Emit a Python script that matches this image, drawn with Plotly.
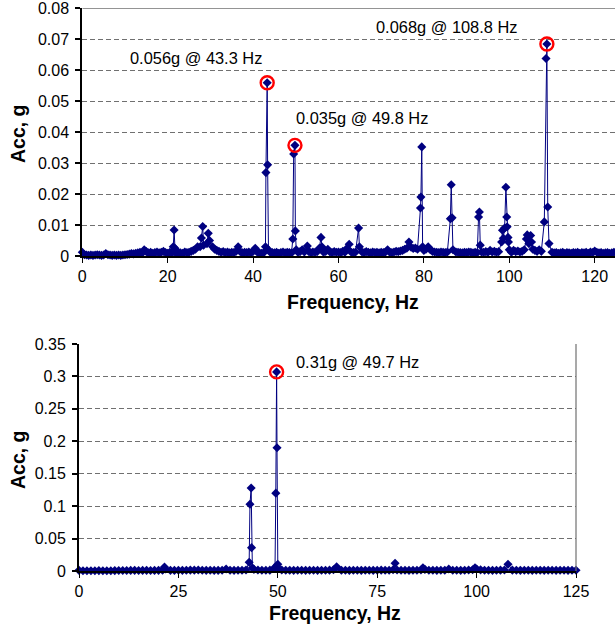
import plotly.graph_objects as go

# ---------------- DATA ----------------
# Top spectrum: noise floor sampled every 0.5 Hz from 0 to 125 Hz (g)
top_floor_step = 0.5
top_floor_acc = [
    0.0012, 0.0004, 0.0003, 0.0002, 0.0003, 0.0002, 0.0003, 0.0004, 0.0003, 0.0002,
    0.0003, 0.0008, 0.0004, 0.0003, 0.0002, 0.0003, 0.0002, 0.0003, 0.0002, 0.0003,
    0.0004, 0.0005, 0.0006, 0.0008, 0.0007, 0.0009, 0.0010, 0.0012, 0.0009, 0.0020,
    0.0014, 0.0010, 0.0012, 0.0009, 0.0011, 0.0013, 0.0010, 0.0012, 0.0015, 0.0011,
    0.0009, 0.0012, 0.0010, 0.0011, 0.0008, 0.0012, 0.0010, 0.0009, 0.0013, 0.0011,
    0.0012, 0.0015, 0.0018, 0.0022, 0.0030, 0.0035, 0.0028, 0.0040, 0.0045, 0.0055,
    0.0040, 0.0030, 0.0022, 0.0018, 0.0015, 0.0012, 0.0014, 0.0011, 0.0013, 0.0010,
    0.0012, 0.0011, 0.0015, 0.0030, 0.0014, 0.0010, 0.0012, 0.0011, 0.0013, 0.0010,
    0.0015, 0.0025, 0.0012, 0.0010, 0.0009, 0.0011, 0.0008, 0.0010, 0.0012, 0.0011,
    0.0010, 0.0012, 0.0009, 0.0011, 0.0013, 0.0010, 0.0012, 0.0011, 0.0010, 0.0012,
    0.0015, 0.0012, 0.0014, 0.0020, 0.0013, 0.0012, 0.0015, 0.0011, 0.0013, 0.0012,
    0.0014, 0.0025, 0.0018, 0.0012, 0.0015, 0.0022, 0.0013, 0.0011, 0.0014, 0.0012,
    0.0013, 0.0011, 0.0015, 0.0012, 0.0025, 0.0014, 0.0012, 0.0011, 0.0013, 0.0012,
    0.0015, 0.0013, 0.0011, 0.0014, 0.0012, 0.0010, 0.0013, 0.0011, 0.0012, 0.0010,
    0.0012, 0.0011, 0.0013, 0.0020, 0.0012, 0.0011, 0.0013, 0.0015, 0.0014, 0.0016,
    0.0018, 0.0022, 0.0025, 0.0030, 0.0028, 0.0024, 0.0026, 0.0022, 0.0025, 0.0020,
    0.0018, 0.0022, 0.0030, 0.0020, 0.0015, 0.0013, 0.0012, 0.0011, 0.0013, 0.0012,
    0.0011, 0.0013, 0.0012, 0.0010, 0.0015, 0.0013, 0.0012, 0.0011, 0.0010, 0.0012,
    0.0011, 0.0013, 0.0012, 0.0010, 0.0012, 0.0011, 0.0015, 0.0013, 0.0012, 0.0014,
    0.0012, 0.0018, 0.0013, 0.0015, 0.0012, 0.0014, 0.0020, 0.0016, 0.0018, 0.0020,
    0.0015, 0.0012, 0.0018, 0.0014, 0.0016, 0.0013, 0.0015, 0.0020, 0.0025, 0.0030,
    0.0028, 0.0022, 0.0018, 0.0015, 0.0020, 0.0015, 0.0018, 0.0025, 0.0020, 0.0015,
    0.0012, 0.0010, 0.0011, 0.0009, 0.0010, 0.0012, 0.0009, 0.0011, 0.0010, 0.0009,
    0.0011, 0.0010, 0.0012, 0.0009, 0.0011, 0.0010, 0.0012, 0.0009, 0.0013, 0.0011,
    0.0016, 0.0012, 0.0010, 0.0011, 0.0009, 0.0010, 0.0011, 0.0009, 0.0010, 0.0012,
    0.0010,
]
# Top spectrum: peak bins (Hz, g)
top_peak_hz = [21.3, 21.5, 21.7,
               27.6, 27.9, 28.2, 28.4, 29.2, 29.5, 29.8,
               42.9, 43.0, 43.3, 43.4, 43.6,
               49.3, 49.5, 49.8, 49.9, 50.1,
               52.7, 55.9, 56.1, 62.5, 64.7, 64.9, 76.5,
               79.2, 79.3, 79.5, 79.7,
               86.2, 86.4, 86.6, 86.8,
               92.8, 93.0, 93.2,
               98.2, 98.4, 98.6, 98.9, 99.2, 99.4, 99.5, 99.7, 99.8, 100.0,
               104.0, 104.2, 104.6, 105.0, 105.2,
               108.2, 108.6, 108.8, 109.0, 109.3]
top_peak_acc = [0.0030, 0.0084, 0.0025,
                0.0030, 0.0058, 0.0095, 0.0035, 0.0040, 0.0073, 0.0050,
                0.0030, 0.0269, 0.0559, 0.0294, 0.0020,
                0.0055, 0.0329, 0.0357, 0.0081, 0.0020,
                0.0032, 0.0060, 0.0030, 0.0038, 0.0090, 0.0030, 0.0045,
                0.0155, 0.0190, 0.0352, 0.0030,
                0.0120, 0.0230, 0.0123, 0.0020,
                0.0126, 0.0142, 0.0035,
                0.0045, 0.0083, 0.0057, 0.0090, 0.0222, 0.0126, 0.0094, 0.0060, 0.0045, 0.0020,
                0.0055, 0.0068, 0.0040, 0.0066, 0.0045,
                0.0110, 0.0637, 0.0684, 0.0158, 0.0040]
top_marked_hz = [43.3, 49.8, 108.8]
top_marked_acc = [0.0559, 0.0357, 0.0684]
top_labels = ["0.056g @ 43.3 Hz", "0.035g @ 49.8 Hz", "0.068g @ 108.8 Hz"]

# Bottom spectrum: noise floor sampled every 1 Hz from 0 to 125 Hz (g)
bot_floor_step = 1.0
bot_floor_acc = [
    0.0010, 0.0005, 0.0004, 0.0005, 0.0004, 0.0006, 0.0005, 0.0004, 0.0005, 0.0006,
    0.0007, 0.0008, 0.0007, 0.0009, 0.0010, 0.0008, 0.0009, 0.0010, 0.0008, 0.0009,
    0.0010, 0.0012, 0.0015, 0.0010, 0.0009, 0.0011, 0.0010, 0.0012, 0.0014, 0.0013,
    0.0015, 0.0012, 0.0010, 0.0011, 0.0009, 0.0010, 0.0012, 0.0015, 0.0011, 0.0010,
    0.0012, 0.0011, 0.0015, 0.0030, 0.0025, 0.0015, 0.0012, 0.0011, 0.0013, 0.0040,
    0.0030, 0.0015, 0.0012, 0.0011, 0.0010, 0.0012, 0.0011, 0.0010, 0.0012, 0.0011,
    0.0010, 0.0012, 0.0011, 0.0013, 0.0020, 0.0018, 0.0012, 0.0011, 0.0010, 0.0012,
    0.0011, 0.0010, 0.0012, 0.0011, 0.0010, 0.0012, 0.0013, 0.0011, 0.0012, 0.0020,
    0.0015, 0.0012, 0.0011, 0.0010, 0.0012, 0.0011, 0.0015, 0.0025, 0.0012, 0.0011,
    0.0010, 0.0012, 0.0011, 0.0015, 0.0012, 0.0011, 0.0010, 0.0012, 0.0015, 0.0020,
    0.0030, 0.0018, 0.0012, 0.0011, 0.0010, 0.0012, 0.0013, 0.0015, 0.0020, 0.0013,
    0.0011, 0.0010, 0.0012, 0.0011, 0.0010, 0.0012, 0.0011, 0.0010, 0.0012, 0.0011,
    0.0010, 0.0012, 0.0011, 0.0010, 0.0012, 0.0011,
]
bot_peak_hz = [21.3, 21.5, 21.8, 37.0,
               42.8, 43.0, 43.3, 43.4, 43.6,
               49.3, 49.5, 49.7, 49.8, 50.0, 50.2,
               64.8, 79.5, 86.5, 93.0, 99.6, 107.9]
bot_peak_acc = [0.003, 0.006, 0.003, 0.003,
                0.0134, 0.103, 0.128, 0.036, 0.005,
                0.005, 0.120, 0.307, 0.190, 0.0103, 0.004,
                0.0066, 0.012, 0.005, 0.003, 0.005, 0.0103]
bot_marked_hz = [49.7]
bot_marked_acc = [0.307]
bot_labels = ["0.31g @ 49.7 Hz"]

top_xticks = [0, 20, 40, 60, 80, 100, 120]
top_xtick_text = ["0", "20", "40", "60", "80", "100", "120"]
top_yticks = [0, 0.01, 0.02, 0.03, 0.04, 0.05, 0.06, 0.07, 0.08]
top_ytick_text = ["0", "0.01", "0.02", "0.03", "0.04", "0.05", "0.06", "0.07", "0.08"]
bot_xticks = [0, 25, 50, 75, 100, 125]
bot_xtick_text = ["0", "25", "50", "75", "100", "125"]
bot_yticks = [0, 0.05, 0.1, 0.15, 0.2, 0.25, 0.3, 0.35]
bot_ytick_text = ["0", "0.05", "0.1", "0.15", "0.2", "0.25", "0.3", "0.35"]


def merge(step, floor, pk_hz, pk_acc):
    pts = [(i * step, a) for i, a in enumerate(floor)
           if all(abs(i * step - p) > 0.25 for p in pk_hz)]
    pts += list(zip(pk_hz, pk_acc))
    pts.sort()
    return [p[0] for p in pts], [p[1] for p in pts]


top_x, top_y = merge(top_floor_step, top_floor_acc, top_peak_hz, top_peak_acc)
bot_x, bot_y = merge(bot_floor_step, bot_floor_acc, bot_peak_hz, bot_peak_acc)

W, H = 615, 632
NAVY = "#000080"
FONT = "Liberation Sans, Arial, sans-serif"
GRID = "#707070"

fig = go.Figure()
line_style = dict(color=NAVY, width=1)
mk = dict(symbol="diamond", size=7, color=NAVY, line=dict(width=0))
ring = dict(symbol="circle-open", size=13, color="#FF0000",
            line=dict(width=2.4, color="#FF0000"))
fig.add_trace(go.Scatter(x=top_x, y=top_y, mode="lines+markers", line=line_style,
                         marker=mk, xaxis="x", yaxis="y", cliponaxis=False))
fig.add_trace(go.Scatter(x=top_marked_hz, y=top_marked_acc, mode="markers",
                         marker=ring, xaxis="x", yaxis="y", cliponaxis=False))
fig.add_trace(go.Scatter(x=bot_x, y=bot_y, mode="lines+markers", line=line_style,
                         marker=mk, xaxis="x2", yaxis="y2", cliponaxis=False))
fig.add_trace(go.Scatter(x=bot_marked_hz, y=bot_marked_acc, mode="markers",
                         marker=ring, xaxis="x2", yaxis="y2", cliponaxis=False))

# pixel geometry (page coordinates, body margin removed)
top_l, top_b, top_t = 82.3, 256, 8
bot_l, bot_r, bot_b, bot_t = 79, 576, 571, 344
top_px_per_hz = 4.27
top_xmax = (W - top_l) / top_px_per_hz

tick_font = dict(family=FONT, size=16, color="black")
common_x = dict(showgrid=False, showline=True, linecolor="black", linewidth=1.5,
                ticks="outside", ticklen=5, tickcolor="black", tickwidth=1,
                zeroline=False, tickfont=tick_font, ticklabelstandoff=0,
                automargin=False, ticklabeloverflow="allow")
common_y = dict(showgrid=True, gridcolor=GRID, griddash="5px,3px", gridwidth=1,
                showline=True, linecolor="black", linewidth=2,
                ticks="outside", ticklen=5, tickcolor="black", tickwidth=1.5,
                zeroline=False, tickfont=tick_font, ticklabelstandoff=3,
                automargin=False, ticklabeloverflow="allow")

fig.update_layout(
    width=W, height=H, margin=dict(l=0, r=0, t=0, b=0, pad=0), autosize=False,
    paper_bgcolor="white", plot_bgcolor="white", showlegend=False,
    xaxis=dict(domain=[top_l / W, 1], range=[0, top_xmax], anchor="y",
               tickvals=top_xticks, ticktext=top_xtick_text, **common_x),
    yaxis=dict(domain=[1 - top_b / H, 1 - top_t / H], range=[0, 0.08], anchor="x",
               tickvals=top_yticks, ticktext=top_ytick_text, **common_y),
    xaxis2=dict(domain=[bot_l / W, bot_r / W], range=[0, 125], anchor="y2",
                tickvals=bot_xticks, ticktext=bot_xtick_text, **common_x),
    yaxis2=dict(domain=[1 - bot_b / H, 1 - bot_t / H], range=[0, 0.35], anchor="x2",
                tickvals=bot_yticks, ticktext=bot_ytick_text, **common_y),
)

shapes = [
    dict(type="line", xref="x", yref="y", x0=0, x1=top_xmax,
         y0=0.08, y1=0.08, line=dict(color=GRID, width=1.3), layer="above"),
    dict(type="line", xref="paper", yref="paper", x0=bot_r / W, x1=bot_r / W,
         y0=1 - bot_b / H, y1=1 - bot_t / H, line=dict(color=GRID, width=1.2)),
]
fig.update_layout(shapes=shapes)

ann_font = dict(family=FONT, size=16.4, color="black")
title_font = dict(family=FONT, size=19.5, color="black")
annotations = []
top_label_pos = [(26.6, 0.0638), (65.6, 0.0445), (85.3, 0.0738)]
for (lx, ly), txt in zip(top_label_pos, top_labels):
    annotations.append(dict(x=lx, y=ly, xref="x", yref="y", text=txt, showarrow=False,
                            font=ann_font, xanchor="center", yanchor="middle"))
bot_label_pos = [(70.0, 0.322)]
for (lx, ly), txt in zip(bot_label_pos, bot_labels):
    annotations.append(dict(x=lx, y=ly, xref="x2", yref="y2", text=txt, showarrow=False,
                            font=ann_font, xanchor="center", yanchor="middle"))
annotations += [
    dict(x=353 / W, y=1 - 302 / H, xref="paper", yref="paper", text="<b>Frequency, Hz</b>",
         showarrow=False, font=title_font, xanchor="center", yanchor="middle"),
    dict(x=335 / W, y=1 - 613 / H, xref="paper", yref="paper", text="<b>Frequency, Hz</b>",
         showarrow=False, font=title_font, xanchor="center", yanchor="middle"),
    dict(x=18 / W, y=1 - 134 / H, xref="paper", yref="paper", text="<b>Acc, g</b>",
         showarrow=False, font=title_font, textangle=-90, xanchor="center", yanchor="middle"),
    dict(x=18 / W, y=1 - 460 / H, xref="paper", yref="paper", text="<b>Acc, g</b>",
         showarrow=False, font=title_font, textangle=-90, xanchor="center", yanchor="middle"),
]
fig.update_layout(annotations=annotations)

fig.write_html("out.html", config={"displayModeBar": False},
               post_script="document.body.style.margin='0';document.body.style.overflow='hidden';")
